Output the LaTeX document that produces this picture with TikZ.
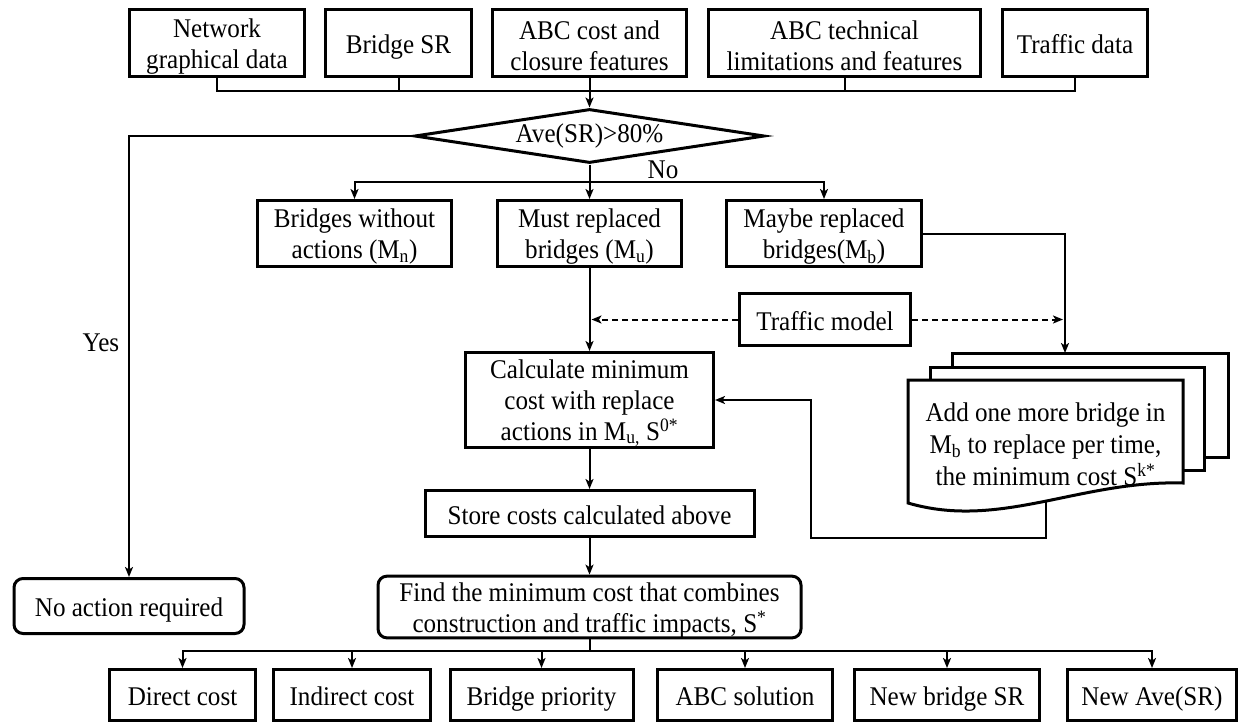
\documentclass[tikz,border=0pt]{standalone}
\usepackage{fontspec}
\setmainfont[FakeStretch=0.93]{Liberation Serif}
\usetikzlibrary{arrows.meta,shapes.geometric}
% extra headroom on the first line of multi-line labels
\newcommand\topgap{\rule{0pt}{25pt}}
\tikzset{
  txt/.style={font=\fontsize{27}{31}\selectfont, inner sep=0pt, align=center},
  one/.style={text height=27pt, text depth=6pt},
  box/.style={txt, draw, line width=3pt, fill=white},
  rbox/.style={box, rounded corners=9pt},
  conn/.style={line width=2pt},
  arr/.style={conn, -{Stealth[length=10pt,width=8pt,inset=2.5pt]}},
  darr/.style={arr, dash pattern=on 6pt off 4pt, shorten >=2pt},
  sheet/.style={draw, line width=3pt, fill=white},
}
\begin{document}
\begin{tikzpicture}[x=1pt,y=-1pt]
\useasboundingbox (0,0) rectangle (1249,726);

% input data
\node[box, minimum width=175, minimum height=67] (net)   at (217,43)    {\topgap Network\\graphical data};
\node[box, one, minimum width=146, minimum height=67] (bsr)   at (398.5,43)  {Bridge SR};
\node[box, minimum width=194, minimum height=67] (abcc)  at (589.5,43)  {\topgap ABC cost and\\closure features};
\node[box, minimum width=272, minimum height=67] (abct)  at (844.5,43)  {\topgap ABC technical\\limitations and features};
\node[box, one, minimum width=145, minimum height=67] (tdata) at (1075,43)   {Traffic data};

% decision
\node[txt, draw, line width=3pt, diamond, aspect=6.4, minimum width=350, minimum height=54] (dia) at (589.5,136) {Ave(SR)>80\%};
\node[txt] (yes) at (101,343) {Yes};
\node[txt] (no)  at (663,170) {No};

% bridge groups
\node[box, minimum width=194, minimum height=66] (bwa)   at (354.5,233.5) {\topgap Bridges without\\actions (M\textsubscript{n})};
\node[box, minimum width=184, minimum height=66] (must)  at (589.5,233.5) {\topgap Must replaced\\bridges (M\textsubscript{u})};
\node[box, minimum width=195, minimum height=66] (maybe) at (824,233.5)   {\topgap Maybe replaced\\bridges(M\textsubscript{b})};

\node[box, one, minimum width=171, minimum height=52] (traffic) at (825,319.5) {Traffic model};
\node[box, minimum width=248, minimum height=95] (calc)  at (589.5,400) {\topgap Calculate minimum\\cost with replace\\actions in M\textsubscript{u,} S\textsuperscript{0*}};
\node[box, one, minimum width=329, minimum height=46] (store) at (589.5,513.5) {Store costs calculated above};

\node[rbox, one, minimum width=230, minimum height=55] (noact) at (129,606) {No action required};
\node[rbox, minimum width=423, minimum height=55] (find)  at (589.5,607) {\topgap Find the minimum cost that combines\\construction and traffic impacts, S\textsuperscript{*}};

% results
\node[box, one, minimum width=146, minimum height=51] (direct)   at (182.5,695) {Direct cost};
\node[box, one, minimum width=157, minimum height=51] (indirect) at (352,695)   {Indirect cost};
\node[box, one, minimum width=183, minimum height=51] (prio)     at (541.5,695) {Bridge priority};
\node[box, one, minimum width=175, minimum height=51] (abcsol)   at (745,695)   {ABC solution};
\node[box, one, minimum width=185, minimum height=51] (newsr)    at (947,695)   {New bridge SR};
\node[box, one, minimum width=169, minimum height=51] (newave)   at (1152,695)  {New Ave(SR)};

% junction points
\coordinate (tb)   at (589.5,91);
\coordinate (mb)   at (589.5,182);
\coordinate (bb)   at (589.5,651);
\coordinate (stacktop) at (1065,353);
\coordinate (docout)   at (1046,496);
\coordinate (fbk)      at (811,538);

% feedback from the stacked results, drawn below the sheets
\draw[arr] (docout) |- (fbk) |- (calc.east);

% stacked documents
\draw[sheet] (952,353) rectangle (1228,457);
\draw[sheet] (930,367) rectangle (1204,470);
\draw[sheet] (908,380) -- (1183,380) -- (1183,483)
  .. controls (1080,480) and (1000,530) .. (908,503) -- cycle;
\node[txt, font=\fontsize{27}{32}\selectfont] (doc) at (1045.5,444)
  {Add one more bridge in\\M\textsubscript{b} to replace per time,\\the minimum cost S\textsuperscript{k*}};

% input bus
\draw[conn] (net.south) |- (tb) -| (tdata.south);
\draw[conn] (bsr.south) -- (bsr.south |- tb);
\draw[conn] (abct.south) -- (abct.south |- tb);
\draw[arr] (abcc.south) -- (dia.north);

% decision branches
\draw[arr] (dia.west) -| (noact.north);
\draw[arr] (dia.south) -- (must.north);
\draw[arr] (mb) -| (bwa.north);
\draw[arr] (mb) -| (maybe.north);

% replacement analysis
\draw[arr] (maybe.east) -| (stacktop);
\draw[darr] (traffic.west) -- (traffic.west -| must.south);
\draw[darr] (traffic.east) -- (traffic.east -| stacktop);
\draw[arr] (must.south) -- (calc.north);
\draw[arr] (calc.south) -- (store.north);
\draw[arr] (store.south) -- (find.north);

% results bus
\draw[conn] (find.south) -- (bb);
\foreach \n in {direct,indirect,prio,abcsol,newsr,newave}
  \draw[arr] (bb) -| (\n.north);
\end{tikzpicture}
\end{document}
